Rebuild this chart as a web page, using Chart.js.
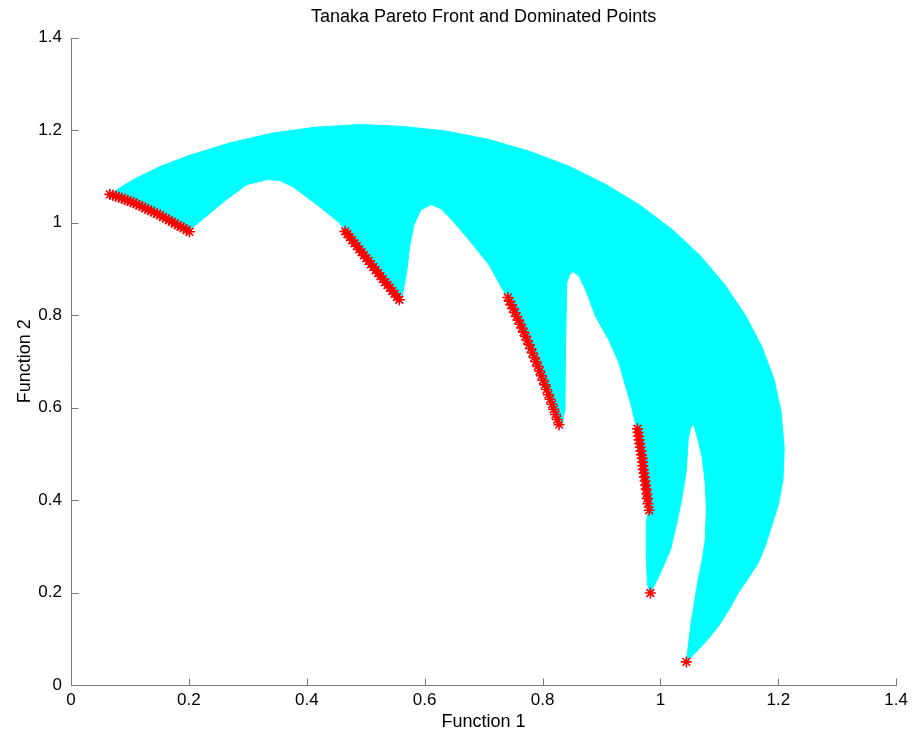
<!DOCTYPE html>
<html>
<head>
<meta charset="utf-8">
<script src="https://cdn.jsdelivr.net/npm/chart.js@4.4.1/dist/chart.umd.min.js"></script>
<style>
  html, body { margin: 0; padding: 0; background: #fff; }
  canvas { display: block; }
</style>
</head>
<body>
<canvas id="tanakaChart" width="913" height="736"></canvas>
<script>
const tickValues = [0, 0.2, 0.4, 0.6, 0.8, 1, 1.2, 1.4];
const tickLabels = ['0', '0.2', '0.4', '0.6', '0.8', '1', '1.2', '1.4'];

// outline of the dominated region, walked clockwise from the upper-left tip
const regionX = [
  0.069, 0.090, 0.112, 0.151, 0.200, 0.269, 0.340, 0.413, 0.489, 0.562, 0.636,
  0.708, 0.778, 0.845, 0.908, 0.966, 1.020, 1.068, 1.109, 1.144, 1.172,
  1.193, 1.205, 1.210, 1.208, 1.200, 1.189, 1.179, 1.166, 1.149, 1.132, 1.116,
  1.098, 1.080, 1.064, 1.044,
  1.052, 1.064, 1.071, 1.076, 1.078, 1.076, 1.071, 1.064, 1.059, 1.056,
  1.051, 1.047, 1.044, 1.036, 1.027, 1.017, 0.997, 0.983,
  0.978, 0.976, 0.976, 0.980, 0.975, 0.966, 0.959, 0.951, 0.929, 0.912, 0.890, 0.873, 0.862, 0.852, 0.846,
  0.841, 0.839, 0.838, 0.832,
  0.816, 0.794, 0.765, 0.739, 0.709, 0.675, 0.646, 0.628, 0.611,
  0.594, 0.582, 0.575, 0.570, 0.562, 0.557,
  0.506, 0.464, 0.455, 0.421, 0.376, 0.354, 0.333, 0.298, 0.264, 0.206, 0.201,
  0.146, 0.100
];
const regionY = [
  1.063, 1.081, 1.097, 1.121, 1.145, 1.172, 1.193, 1.206, 1.212, 1.208, 1.198,
  1.180, 1.154, 1.122, 1.082, 1.037, 0.985, 0.928, 0.866, 0.800, 0.732,
  0.660, 0.589, 0.512, 0.444, 0.390, 0.345, 0.305, 0.264, 0.231, 0.199, 0.162,
  0.126, 0.098, 0.076, 0.050,
  0.134, 0.227, 0.271, 0.314, 0.379, 0.437, 0.491, 0.530, 0.552, 0.563,
  0.556, 0.530, 0.465, 0.400, 0.346, 0.292, 0.234, 0.199,
  0.216, 0.281, 0.351, 0.379, 0.437, 0.509, 0.558, 0.602, 0.699, 0.747, 0.797, 0.855, 0.884, 0.894, 0.888,
  0.870, 0.725, 0.595, 0.556,
  0.613, 0.686, 0.773, 0.840, 0.909, 0.963, 1.006, 1.030, 1.039,
  1.028, 0.996, 0.952, 0.898, 0.840, 0.831,
  0.916, 0.985, 1.000, 1.035, 1.078, 1.091, 1.093, 1.082, 1.050, 0.989, 0.981,
  1.022, 1.045
];

// pareto front, one pair of arrays per disconnected piece
const front1X = [0.066, 0.071, 0.076, 0.081, 0.086, 0.091, 0.096, 0.101, 0.106, 0.111, 0.116, 0.121, 0.126, 0.131,
  0.136, 0.141, 0.146, 0.151, 0.156, 0.161, 0.166, 0.171, 0.176, 0.181, 0.186, 0.191, 0.196, 0.201];
const front1Y = [1.061, 1.059, 1.057, 1.055, 1.053, 1.050, 1.048, 1.045, 1.043, 1.040, 1.037, 1.034, 1.031, 1.028,
  1.025, 1.022, 1.019, 1.016, 1.012, 1.009, 1.005, 1.002, 0.998, 0.994, 0.991, 0.988, 0.984, 0.980];

const front2X = [0.465, 0.469, 0.473, 0.477, 0.481, 0.485, 0.489, 0.493, 0.497, 0.501, 0.505, 0.509,
  0.513, 0.517, 0.521, 0.525, 0.529, 0.533, 0.537, 0.541, 0.545, 0.549, 0.553, 0.557];
const front2Y = [0.981, 0.975, 0.968, 0.962, 0.955, 0.949, 0.942, 0.936, 0.929, 0.923, 0.917, 0.910,
  0.904, 0.897, 0.891, 0.884, 0.878, 0.871, 0.865, 0.859, 0.852, 0.846, 0.839, 0.833];

const front3X = [0.741, 0.744, 0.747, 0.750, 0.753, 0.756, 0.759, 0.762, 0.765, 0.768, 0.771, 0.774, 0.777, 0.780, 0.783,
  0.786, 0.789, 0.792, 0.795, 0.798, 0.801, 0.804, 0.807, 0.810, 0.813, 0.816, 0.819, 0.822, 0.825, 0.828];
const front3Y = [0.838, 0.830, 0.822, 0.814, 0.805, 0.797, 0.789, 0.780, 0.772, 0.763, 0.754, 0.745, 0.736, 0.727, 0.718,
  0.708, 0.699, 0.689, 0.679, 0.669, 0.659, 0.649, 0.639, 0.628, 0.618, 0.607, 0.596, 0.585, 0.574, 0.563];

const front4X = [0.961, 0.962, 0.963, 0.964, 0.965, 0.966, 0.967, 0.968, 0.969, 0.970, 0.970,
  0.971, 0.972, 0.973, 0.974, 0.975, 0.976, 0.977, 0.978, 0.979, 0.981];
const front4Y = [0.554, 0.546, 0.538, 0.530, 0.522, 0.514, 0.506, 0.498, 0.490, 0.482, 0.474,
  0.466, 0.458, 0.450, 0.441, 0.432, 0.423, 0.413, 0.403, 0.392, 0.378];

const front5X = [0.983, 1.044];
const front5Y = [0.199, 0.050];

const axisColor = '#7a7a7a';
const fontFamily = '"Liberation Sans", Arial, Helvetica, sans-serif';

const toPoints = (xs, ys) => xs.map((x, i) => ({ x: x, y: ys[i] }));

const frontPoints = [
  ...toPoints(front1X, front1Y),
  ...toPoints(front2X, front2Y),
  ...toPoints(front3X, front3Y),
  ...toPoints(front4X, front4Y),
  ...toPoints(front5X, front5Y)
];

// left/bottom axis lines with ticks pointing into the plot
const inwardAxes = {
  id: 'inwardAxes',
  afterDraw(chart) {
    const { ctx, chartArea: a, scales: { x, y } } = chart;
    const len = 7;
    ctx.save();
    ctx.strokeStyle = axisColor;
    ctx.lineWidth = 1;
    ctx.beginPath();
    const left = Math.round(a.left) + 0.5;
    const bottom = Math.round(a.bottom) + 0.5;
    ctx.moveTo(left, Math.round(a.top));
    ctx.lineTo(left, bottom);
    ctx.lineTo(Math.round(a.right) + 1, bottom);
    x.ticks.forEach(t => {
      const px = Math.round(x.getPixelForValue(t.value)) + 0.5;
      ctx.moveTo(px, bottom);
      ctx.lineTo(px, bottom - len);
    });
    y.ticks.forEach(t => {
      const py = Math.round(y.getPixelForValue(t.value)) + 0.5;
      ctx.moveTo(left, py);
      ctx.lineTo(left + len, py);
    });
    ctx.stroke();
    ctx.restore();
  }
};

const useTicks = scale => {
  scale.ticks = tickValues.map(v => ({ value: v }));
};

new Chart(document.getElementById('tanakaChart'), {
  type: 'scatter',
  data: {
    datasets: [
      {
        label: 'Pareto front',
        data: frontPoints,
        pointStyle: 'star',
        pointRadius: 5.5,
        borderColor: '#ff0000',
        backgroundColor: '#ff0000',
        borderWidth: 1.6,
        order: 1
      },
      {
        label: 'Dominated points',
        data: toPoints(regionX, regionY),
        showLine: true,
        fill: 'shape',
        tension: 0,
        pointRadius: 0,
        borderColor: '#00ffff',
        backgroundColor: '#00ffff',
        borderWidth: 1,
        order: 2
      }
    ]
  },
  options: {
    responsive: false,
    animation: false,
    events: [],
    layout: { padding: { left: 0, right: 15, top: 0, bottom: 0 } },
    plugins: {
      legend: { display: false },
      tooltip: { enabled: false },
      title: {
        display: true,
        fullSize: false,
        text: 'Tanaka Pareto Front and Dominated Points',
        color: '#000',
        font: { family: fontFamily, size: 18, weight: 'normal' },
        padding: { top: 6, bottom: 10 }
      }
    },
    scales: {
      x: {
        type: 'linear',
        min: 0,
        max: 1.4,
        afterBuildTicks: useTicks,
        afterFit: s => { s.height = 51; },
        grid: { display: false, drawTicks: false },
        border: { display: false },
        ticks: {
          color: '#000',
          padding: 5,
          maxRotation: 0,
          font: { family: fontFamily, size: 17 },
          callback: (v, i) => tickLabels[i]
        },
        title: {
          display: true,
          text: 'Function 1',
          color: '#000',
          font: { family: fontFamily, size: 18 },
          padding: { top: 0, bottom: 3 }
        }
      },
      y: {
        type: 'linear',
        min: 0,
        max: 1.4,
        afterBuildTicks: useTicks,
        afterFit: s => { s.width = 71; },
        grid: { display: false, drawTicks: false },
        border: { display: false },
        ticks: {
          color: '#000',
          padding: 9,
          font: { family: fontFamily, size: 17 },
          callback: (v, i) => tickLabels[i]
        },
        title: {
          display: true,
          text: 'Function 2',
          color: '#000',
          font: { family: fontFamily, size: 18 },
          padding: { top: 14, bottom: 0 }
        }
      }
    }
  },
  plugins: [inwardAxes]
});
</script>
</body>
</html>
